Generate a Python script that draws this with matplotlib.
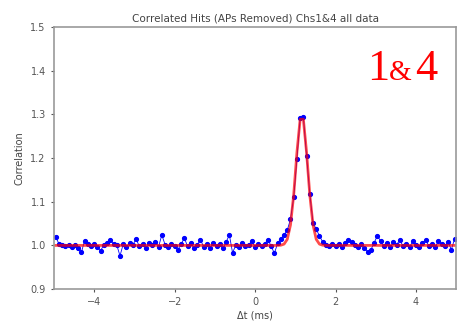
import matplotlib

matplotlib.use("Agg")
import matplotlib.pyplot as plt  # noqa: E402
import numpy as np  # noqa: E402

# bin centres of the time-difference histogram (ms)
dt = np.round(np.arange(-4.96, 4.97, 0.08), 2)

correlation = [
    1.020, 1.004, 1.001, 0.998, 1.002, 0.997, 1.000, 0.995, 0.984, 1.011,
    1.003, 0.999, 1.004, 0.996, 0.988, 1.002, 1.006, 1.013, 1.004, 1.001,
    0.976, 1.003, 0.997, 1.005, 1.001, 1.015, 0.998, 1.003, 0.995, 1.006,
    1.000, 1.008, 0.997, 1.024, 1.002, 0.996, 1.004, 0.999, 0.990, 1.003,
    1.017, 0.998, 1.005, 0.994, 1.001, 1.013, 0.997, 1.004, 0.995, 1.006,
    0.999, 1.003, 0.993, 1.008, 1.024, 0.983, 1.001, 0.996, 1.005, 0.998,
    1.002, 1.009, 0.997, 1.003, 0.999, 1.004, 1.013, 0.998, 0.982, 1.005,
    1.015, 1.024, 1.035, 1.060, 1.110, 1.198, 1.292, 1.294, 1.205, 1.118,
    1.052, 1.037, 1.022, 1.008, 1.002, 0.998, 1.004, 0.999, 1.003, 0.996,
    1.006, 1.013, 1.008, 1.002, 0.997, 1.004, 0.995, 0.985, 0.990, 1.006,
    1.022, 1.010, 0.998, 1.005, 0.996, 1.007, 1.002, 1.012, 0.998, 1.004,
    0.996, 1.009, 1.001, 0.997, 1.006, 1.012, 0.999, 1.004, 0.997, 1.010,
    1.003, 0.998, 1.008, 0.990, 1.015,
]

# gaussian fit evaluated on the bins (flat 1.0 away from the peak)
fit_peak_dt = [0.64, 0.72, 0.80, 0.88, 0.96, 1.04, 1.12, 1.20, 1.28, 1.36, 1.44, 1.52, 1.60, 1.68]
fit_peak_val = [1.0005, 1.003, 1.014, 1.047, 1.116, 1.213, 1.289, 1.289, 1.213, 1.116, 1.047, 1.014, 1.003, 1.0005]
fit = np.ones_like(dt)
for t, v in zip(fit_peak_dt, fit_peak_val):
    fit[np.isclose(dt, t)] = v

fig = plt.figure(figsize=(4.58, 3.27), dpi=100)
ax = fig.add_axes([0.118, 0.116, 0.878, 0.801])
ax.plot(dt, correlation, ".-", color="blue", markersize=5.5, lw=0.6)
ax.plot(dt, fit, "-", color="red", lw=2.0, alpha=0.7)

ax.set_xlim(-5, 5)
ax.set_ylim(0.9, 1.5)
ax.set_xticks([-4, -2, 0, 2, 4])
ax.set_yticks([0.9, 1.0, 1.1, 1.2, 1.3, 1.4, 1.5])
ax.tick_params(labelsize=7, colors="#555555", length=2.5)
for s in ax.spines.values():
    s.set_color("#999999")
    s.set_linewidth(1.2)

ax.set_title("Correlated Hits (APs Removed) Chs1&4 all data", fontsize=7.5, color="#444444", pad=4)
ax.set_xlabel("Δt (ms)", fontsize=7, color="#444444", labelpad=2)
ax.set_ylabel("Correlation", fontsize=7, color="#444444", labelpad=4)

# "1&4" label, ampersand set smaller like the original
label_kw = dict(transform=ax.transAxes, ha="center", va="baseline", color="red", family="Liberation Serif")
ax.text(0.805, 0.80, "1", fontsize=32, **label_kw)
ax.text(0.860, 0.80, "&", fontsize=21, **label_kw)
ax.text(0.925, 0.80, "4", fontsize=32, **label_kw)

fig.savefig("out.png", dpi=100)
plt.close(fig)
